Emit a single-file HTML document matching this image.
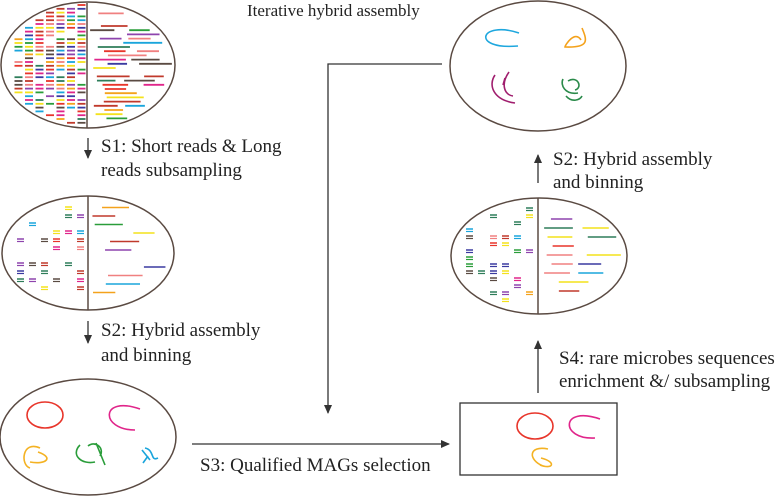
<!DOCTYPE html>
<html><head><meta charset="utf-8"><style>
html,body{margin:0;padding:0;background:#fff;width:778px;height:497px;overflow:hidden}
svg{display:block}
text{font-family:"Liberation Serif",serif;font-size:19px;fill:#222}
</style></head><body>
<svg id="s" width="778" height="497" viewBox="0 0 778 497" xmlns="http://www.w3.org/2000/svg">
<defs><marker id="a" markerWidth="10" markerHeight="10" refX="8" refY="4" orient="auto" markerUnits="userSpaceOnUse"><path d="M0,0 L9,4 L0,8 Z" fill="#333"/></marker></defs>
<g id="dash"></g>
<g fill="none" stroke="#5a4a42" stroke-width="1.5">
<ellipse cx="88" cy="65" rx="87" ry="63"/>
<line x1="87" y1="3" x2="87" y2="128"/>
<ellipse cx="88" cy="253" rx="86" ry="57"/>
<line x1="88" y1="196" x2="88" y2="310"/>
<ellipse cx="88" cy="437" rx="88" ry="58"/>
<ellipse cx="538" cy="66" rx="88" ry="65"/>
<ellipse cx="539" cy="256" rx="88" ry="58"/>
<line x1="538" y1="198" x2="538" y2="314"/>
</g>
<rect x="460" y="403" width="157" height="72" fill="none" stroke="#333" stroke-width="1.3"/>
<g stroke="#333" stroke-width="1.3" fill="none">
<line x1="88" y1="138" x2="88" y2="158" marker-end="url(#a)"/>
<line x1="88" y1="321" x2="88" y2="343" marker-end="url(#a)"/>
<line x1="192" y1="444" x2="449" y2="444" marker-end="url(#a)"/>
<polyline points="442,64 328,64 328,413" marker-end="url(#a)"/>
<line x1="538" y1="183" x2="538" y2="155" marker-end="url(#a)"/>
<line x1="538" y1="393" x2="538" y2="341" marker-end="url(#a)"/>
</g>
<g fill="none" stroke-width="1.6">
<ellipse cx="45" cy="415" rx="18" ry="13" stroke="#e8352a"/>
<path d="M140,409 C100,395 100,430 135,430" stroke="#e0258a"/>
<path d="M40,448 C22,440 20,465 30,468 M38,452 C55,458 45,465 30,462" stroke="#f4b223"/>
<path d="M80,445 C70,455 82,465 95,462 M88,446 C95,440 105,448 100,456 M96,443 L105,465" stroke="#2a9d3a"/>
<path d="M142,450 L150,460 M145,448 C155,450 150,462 158,458 M148,456 L143,463" stroke="#1aa5dc"/>
<ellipse cx="535" cy="426" rx="18" ry="13" stroke="#e8352a"/>
<path d="M600,419 C560,405 560,440 595,438" stroke="#e0258a"/>
<path d="M548,449 C528,445 528,460 543,466 M541,458 C557,462 553,470 540,465" stroke="#f4b223"/>
<path d="M519,33 C480,20 470,50 518,46" stroke="#1ea7de"/>
<path d="M581,40 C575,30 565,45 565,47 C590,48 587,40 582,28" stroke="#f4a21c"/>
<path d="M495,75 C488,85 493,100 515,103 M509,72 C500,85 505,95 513,96 M505,78 L503,85" stroke="#a01e6e"/>
<path d="M563,79 C560,85 565,95 578,93 M568,81 C578,75 583,88 575,90 M566,96 C572,103 580,100 582,96" stroke="#2a8a4a"/>
</g>
<text x="247" y="16" style="font-size:17px">Iterative hybrid assembly</text>
<text x="101" y="152">S1: Short reads &amp; Long</text>
<text x="101" y="176">reads subsampling</text>
<text x="101" y="336">S2: Hybrid assembly</text>
<text x="101" y="361">and binning</text>
<text x="200" y="471">S3: Qualified MAGs selection</text>
<text x="553" y="165">S2: Hybrid assembly</text>
<text x="553" y="188">and binning</text>
<text x="559" y="364">S4: rare microbes sequences</text>
<text x="559" y="387">enrichment &amp;/ subsampling</text>
</svg>
<script>
(function(){
var cols=["#e8352a","#f4a21c","#e0258a","#2a9d3a","#1aa5dc","#8e44ad","#f4e21c","#2e7d5a","#5a4a42","#c0392b","#3a3aa0","#f08080"];
var s=123456789;function r(){s|=0;s=s+0x6D2B79F5|0;var t=Math.imul(s^s>>>15,1|s);t=t+Math.imul(t^t>>>7,61|t)^t;return ((t^t>>>14)>>>0)/4294967296;}
var g=document.getElementById('dash'),h='';
function inE(x,y,cx,cy,rx,ry){var dx=(x-cx)/rx,dy=(y-cy)/ry;return dx*dx+dy*dy<0.93;}
function fill(cx,cy,rx,ry,div,stepL,stepR,dens,shortW,colStep,longMin,longMax,dbl,sw){
 for(var y=cy-ry+3;y<cy+ry;y+=stepL){for(var x=cx-rx+3;x<div-shortW;x+=colStep){if(r()<dens&&inE(x,y,cx,cy,rx,ry)&&inE(x+shortW,y,cx,cy,rx,ry)){var c=cols[Math.floor(r()*cols.length)];h+='<line x1="'+x+'" y1="'+y+'" x2="'+(x+shortW)+'" y2="'+y+'" stroke="'+c+'" stroke-width="'+sw+'"/>';if(dbl)h+='<line x1="'+x+'" y1="'+(y+2.5)+'" x2="'+(x+shortW)+'" y2="'+(y+2.5)+'" stroke="'+c+'" stroke-width="1.2"/>';}}}
 for(var y=cy-ry+3;y<cy+ry;y+=stepR){var x=div+3+r()*20;var n=0;while(n<6){n++;var L=longMin+r()*(longMax-longMin);if(!inE(x+L,y,cx,cy,rx,ry)){if(L>longMin+5){continue;}break;}if(r()<0.85){var c=cols[Math.floor(r()*cols.length)];h+='<line x1="'+x+'" y1="'+y+'" x2="'+(x+L)+'" y2="'+y+'" stroke="'+c+'" stroke-width="'+sw+'"/>';}x+=L+5+r()*12;}}
}
fill(88,65,87,63,87,3.8,4.2,0.9,8,10.5,18,40,false,1.8);
fill(88,253,86,57,88,8,8.5,0.45,7,12,20,35,true,1.5);
fill(539,256,88,58,538,7,9,0.4,7,12,20,35,true,1.5);
g.innerHTML=h;
})();
</script>
</body></html>
